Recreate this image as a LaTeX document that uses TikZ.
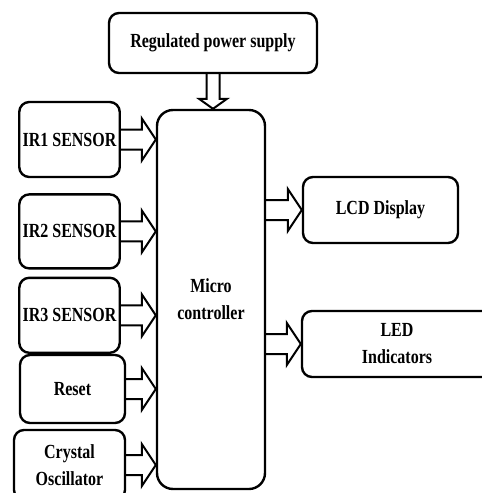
\documentclass[tikz,border=0pt]{standalone}
\usepackage{fontspec}
\setmainfont{Liberation Serif}[FakeStretch=0.8]
\usetikzlibrary{positioning, calc}

% sizes of the hollow arrows
\newcommand\bashaft{10pt}
\newcommand\bahead{21pt}
\newcommand\balen{14pt}

\tikzset{
    ba shaft/.store in=\bashaft,
    ba head/.store in=\bahead,
    ba len/.store in=\balen
}

\tikzstyle{block} = [
    rectangle,
    rounded corners=10pt,
    line width=2.4pt,
    draw=black,
    align=center,
    font=\bfseries\fontsize{20}{27}\selectfont
]
\tikzstyle{blockarrow} = [
    draw=black,
    line width=2pt,
    line join=miter,
    to path={
        ($(\tikztostart)!\bashaft!90:(\tikztotarget)$)
        -- ($(\tikztotarget)!\balen!(\tikztostart)!\bashaft!-90:(\tikztostart)$)
        -- ($(\tikztotarget)!\balen!(\tikztostart)!\bahead!-90:(\tikztostart)$)
        -- (\tikztotarget)
        -- ($(\tikztotarget)!\balen!(\tikztostart)!\bahead!90:(\tikztostart)$)
        -- ($(\tikztotarget)!\balen!(\tikztostart)!\bashaft!90:(\tikztostart)$)
        -- ($(\tikztostart)!\bashaft!-90:(\tikztotarget)$)
    }
]
\tikzstyle{powerarrow} = [blockarrow, ba shaft=6.5pt, ba head=14pt, ba len=10pt]

\begin{document}
\begin{tikzpicture}[x=1pt, y=-1pt]

\clip (0,0) rectangle (482,493);

\node (micro) [block, rounded corners=16pt, minimum width=108pt, minimum height=379pt]
at (211,299.5) {Micro\\controller};

\node (ps) [block, minimum width=208pt, minimum height=60pt]
at (213,43) {Regulated power supply};

\node (ir1) [block, minimum width=99pt, minimum height=75pt]
at (69.5,139.5) {IR1 SENSOR};

\node (ir2) [block, minimum width=99pt, minimum height=74pt, below=15pt of ir1]
{IR2 SENSOR};

\node (ir3) [block, minimum width=99pt, minimum height=75pt, below=7pt of ir2]
{IR3 SENSOR};

\node (reset) [block, minimum width=105pt, minimum height=68pt]
at (72.5,389) {Reset};

\node (crystal) [block, minimum width=111pt, minimum height=70pt]
at (69.5,465) {Crystal\\Oscillator};

\node (lcd) [block, minimum width=155pt, minimum height=66pt]
at (380.5,210) {LCD Display};

\node (led) [block, minimum width=190pt, minimum height=66pt]
at (397,344) {LED\\Indicators};

\draw [powerarrow] (ps.south) to (ps.south |- micro.north);
\draw [blockarrow] (ir1.east) to (ir1.east -| micro.west);
\draw [blockarrow] (ir2.east) to (ir2.east -| micro.west);
\draw [blockarrow] (ir3.east) to (ir3.east -| micro.west);
\draw [blockarrow] (reset.east) to (reset.east -| micro.west);
\draw [blockarrow] (crystal.east) to (crystal.east -| micro.west);
\draw [blockarrow] (lcd.west -| micro.east) to (lcd.west);
\draw [blockarrow] (led.west -| micro.east) to (led.west);

\end{tikzpicture}
\end{document}
